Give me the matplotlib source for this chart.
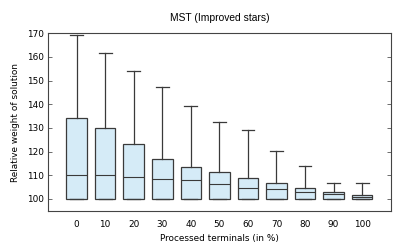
import matplotlib
matplotlib.use("Agg")
import matplotlib.pyplot as plt

# data
labels = ["0", "10", "20", "30", "40", "50", "60", "70", "80", "90", "100"]
whislo = [100.0] * 11
q1 = [100.0] * 11
med = [109.9, 109.9, 109.2, 108.6, 107.8, 106.1, 104.7, 104.0, 102.7, 101.9, 100.6]
q3 = [134.3, 130.0, 123.1, 116.8, 113.3, 111.4, 108.7, 106.5, 104.7, 103.0, 101.6]
whishi = [169.2, 161.8, 154.2, 147.1, 139.4, 132.6, 129.3, 120.3, 114.0, 106.5, 106.5]

plt.rcParams.update({
    "font.family": "DejaVu Sans",
    "font.size": 6.4,
})

fig = plt.figure(figsize=(4.07, 2.44), dpi=100)
ax = fig.add_axes([0.118, 0.1365, 0.842, 0.727])

stats = []
for i in range(len(labels)):
    stats.append(dict(whislo=whislo[i], q1=q1[i], med=med[i], q3=q3[i],
                      whishi=whishi[i], label=labels[i]))

edge = "#3a3a3a"
ax.bxp(stats, positions=range(len(labels)), widths=0.72, patch_artist=True,
       showfliers=False,
       boxprops=dict(facecolor="#d5ebf7", edgecolor=edge, linewidth=0.9),
       medianprops=dict(color=edge, linewidth=0.8),
       whiskerprops=dict(color=edge, linewidth=0.9),
       capprops=dict(color=edge, linewidth=0.9),
       capwidths=0.45)

ax.set_xlim(-1, len(labels))
ax.set_ylim(95, 170)
ax.set_yticks(range(100, 171, 10))
ax.set_xticks(range(len(labels)))
ax.set_xticklabels(labels)
ax.tick_params(axis="x", length=0, pad=7, labelsize=6.4)
ax.tick_params(axis="y", direction="in", length=3, width=0.6, color="#555555",
               right=True, pad=3, labelsize=6.4)
for s in ax.spines.values():
    s.set_color("#444444")
    s.set_linewidth(0.8)

ax.set_title("MST (Improved stars)", pad=9, family="Liberation Sans", fontsize=7.4)
ax.set_xlabel("Processed terminals (in %)", labelpad=3)
ax.set_ylabel("Relative weight of solution", labelpad=5)

fig.savefig("out.png", dpi=100)
